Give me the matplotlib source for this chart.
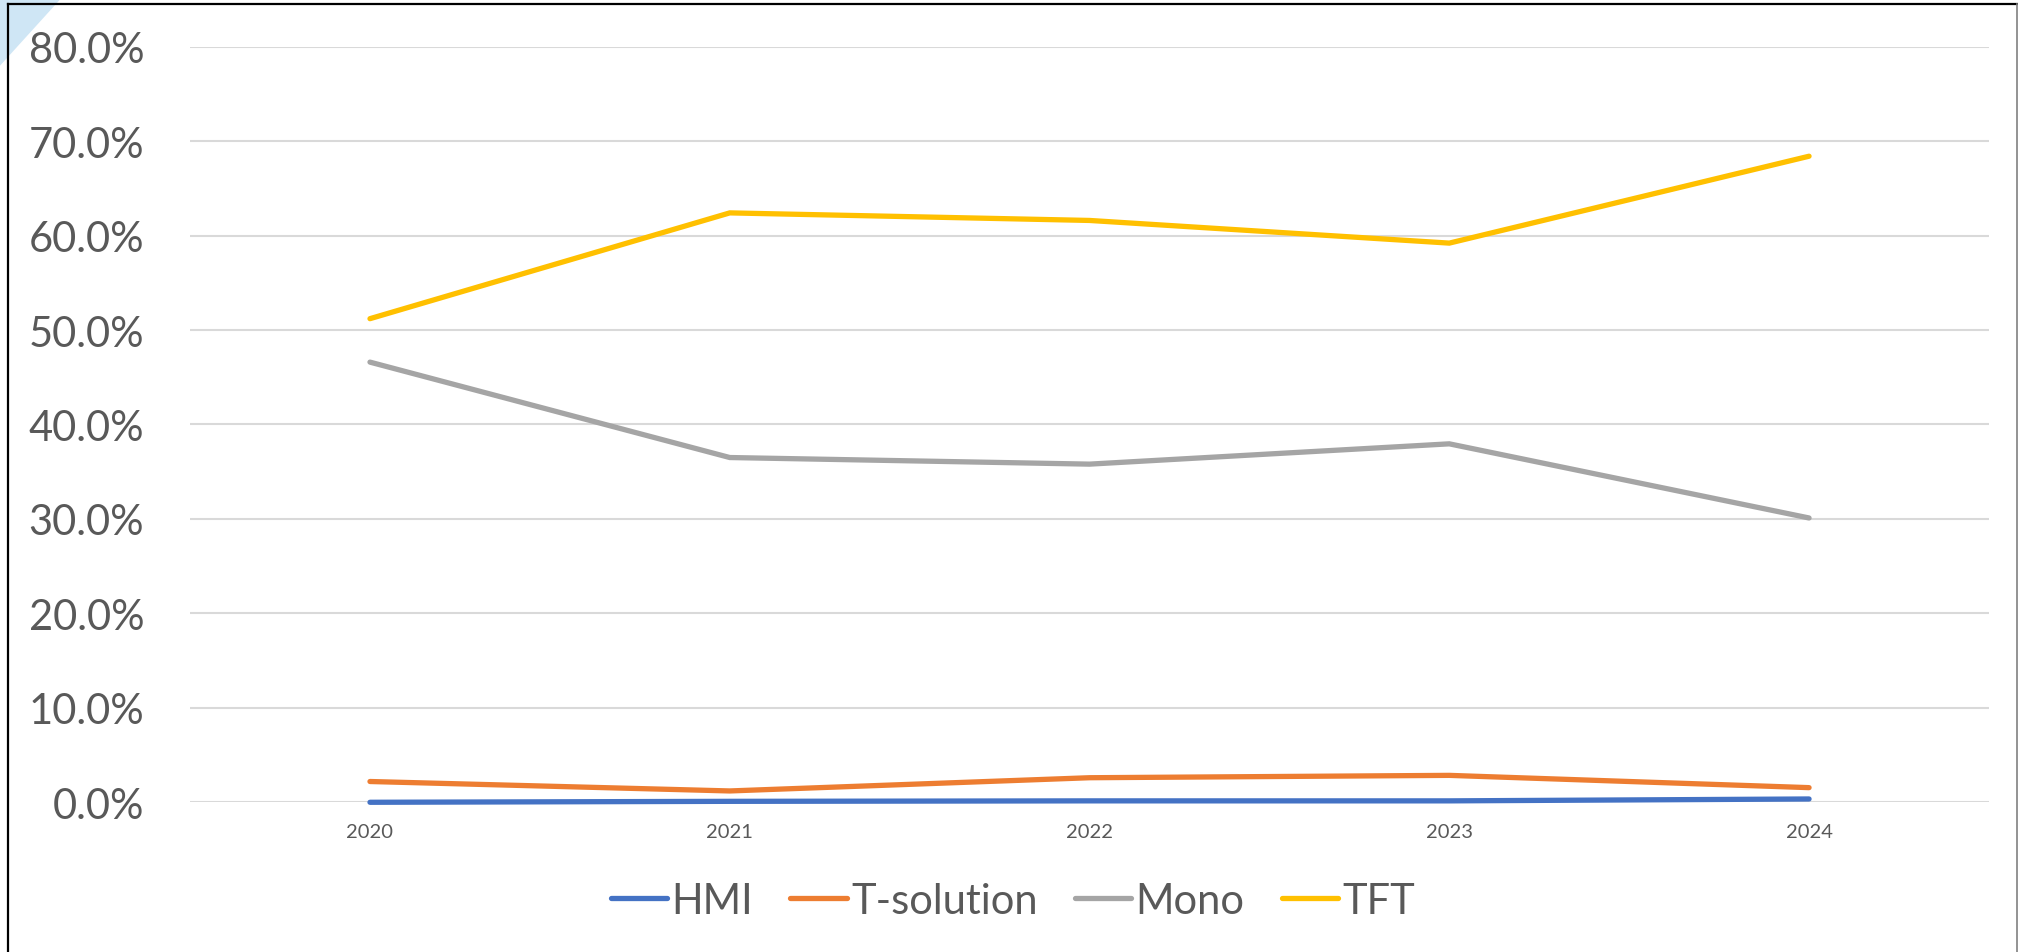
import matplotlib.pyplot as plt
from matplotlib.patches import Polygon
from matplotlib.ticker import FuncFormatter
import numpy as np

plt.rcParams['font.family'] = ['Lato', 'DejaVu Sans']

# datos (fraccion)
anios = ["2020", "2021", "2022", "2023", "2024"]
hmi = [0.000, 0.001, 0.0015, 0.0015, 0.0035]
t_solution = [0.022, 0.012, 0.026, 0.0285, 0.0155]
mono = [0.466, 0.365, 0.358, 0.3795, 0.301]
tft = [0.512, 0.624, 0.616, 0.592, 0.684]

series = ["HMI", "T-solution", "Mono", "TFT"]
colores = ["#4472C4", "#ED7D31", "#A5A5A5", "#FFC000"]
texto = "#595959"

fig = plt.figure(figsize=(20.18, 9.53), dpi=100)
ax = fig.add_axes([0.0942, 0.1571, 0.9856 - 0.0942, 0.95 - 0.1571])

x = np.arange(len(anios))
for nombre, datos, c in zip(series, [hmi, t_solution, mono, tft], colores):
    ax.plot(x, datos, color=c, lw=3.8, solid_capstyle='round',
            solid_joinstyle='miter', label=nombre, zorder=3, clip_on=False)

ax.set_xlim(-0.5, len(anios) - 0.5)
ax.set_ylim(0, 0.8)
ax.set_yticks(np.arange(0, 0.81, 0.1))
ax.yaxis.set_major_formatter(FuncFormatter(lambda v, p: "%.1f%%" % (v * 100)))
ax.set_xticks(x)
ax.set_xticklabels(anios)

ax.grid(axis='y', color="#D9D9D9", lw=1.5, zorder=0)
ax.set_axisbelow(True)
for s in ax.spines.values():
    s.set_visible(False)
ax.tick_params(axis='y', length=0, pad=33, labelsize=30, labelcolor=texto)
ax.tick_params(axis='x', length=0, pad=15, labelsize=14.5, labelcolor=texto)

leg = fig.legend(loc='center', bbox_to_anchor=(0.502, 0.0535), ncol=4,
                 frameon=False, fontsize=30, handlelength=1.35,
                 handletextpad=0.1, columnspacing=0.9, labelcolor=texto)
for h in leg.get_lines():
    h.set_linewidth(3.8)
    h.set_solid_capstyle('round')

# borde del cuadro y esquina azulada
fig.patches.append(Polygon([[0, 1], [0.03, 1], [0, 0.93]], closed=True,
                           transform=fig.transFigure, facecolor="#CFE6F5",
                           edgecolor='none', zorder=0))
fig.add_artist(plt.Line2D([0.004, 0.004], [0, 0.995], color="black", lw=1.6,
                          transform=fig.transFigure))
fig.add_artist(plt.Line2D([0.004, 1], [0.995, 0.995], color="black", lw=1.6,
                          transform=fig.transFigure))
fig.add_artist(plt.Line2D([0.9993, 0.9993], [0, 0.995], color="#808080", lw=1.2,
                          transform=fig.transFigure))

fig.savefig("out.png", dpi=100)
